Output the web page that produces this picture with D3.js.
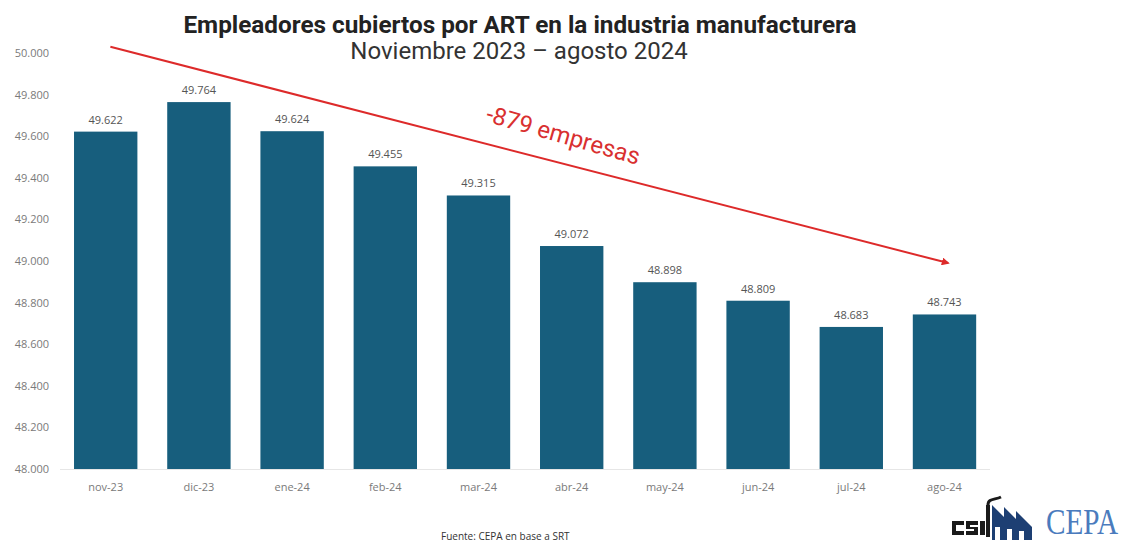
<!DOCTYPE html>
<html>
<head>
  <meta charset="utf-8" />
  <title>Empleadores cubiertos por ART</title>
  <script type="text/javascript" src="https://cdn.jsdelivr.net/npm/d3@7"></script>
  <style type="text/css">
  body {
    margin: 0;
    background: #fff;
    font-family: Roboto, "Noto Sans", sans-serif;
  }
  .tick-label {
    fill: #7a7a7a;
    font-size: 11px;
    font-family: "Open Sans", Roboto, sans-serif;
  }
  .value-label {
    fill: #555;
    font-size: 11px;
    font-family: "Open Sans", Roboto, sans-serif;
  }
  .bar {
    fill: #175e7d;
  }
  </style>
</head>
<body>
  <script type="text/javascript">
    var months = ['nov-23', 'dic-23', 'ene-24', 'feb-24', 'mar-24', 'abr-24', 'may-24', 'jun-24', 'jul-24', 'ago-24']
    var empleadores = [49622, 49764, 49624, 49455, 49315, 49072, 48898, 48809, 48683, 48743]
    var yTicks = [48000, 48200, 48400, 48600, 48800, 49000, 49200, 49400, 49600, 49800, 50000]
    // trend arrow: [category index, value] at start and end
    var trendFrom = [0.05, 50030]
    var trendTo = [9.04, 48990]
    var trendLabel = '-879 empresas'

    var w = 1124,
        h = 542

    var es = d3.formatLocale({ decimal: ',', thousands: '.', grouping: [3], currency: ['$', ''] })
    var fmt = es.format(',.0f')

    var x = d3.scaleBand().domain(months).range([44.2, 1006]).padding(0.32)
    var xi = d3.scaleLinear().domain([0, months.length - 1])
      .range([x(months[0]) + x.bandwidth() / 2, x(months[months.length - 1]) + x.bandwidth() / 2])
    var y = d3.scaleLinear().domain([48000, 50000]).range([469, 53])

    var svg = d3.select(document.body)
      .append('svg')
      .attr('width', w)
      .attr('height', h)

    // title
    svg.append('text')
      .attr('x', 520).attr('y', 33)
      .attr('text-anchor', 'middle')
      .style('font-size', '24.3px').style('font-weight', 'bold').style('fill', '#222')
      .text('Empleadores cubiertos por ART en la industria manufacturera')
    svg.append('text')
      .attr('x', 519).attr('y', 59)
      .attr('text-anchor', 'middle')
      .style('font-size', '24px').style('fill', '#333')
      .text('Noviembre 2023 – agosto 2024')

    // y labels
    svg.selectAll('.ytick')
      .data(yTicks)
    .enter().append('text')
      .attr('class', 'tick-label')
      .attr('x', 49)
      .attr('y', function(d) { return y(d) + 4 })
      .attr('text-anchor', 'end')
      .text(fmt)

    // baseline
    svg.append('line')
      .attr('x1', 60).attr('x2', 990)
      .attr('y1', y(48000) + 0.5).attr('y2', y(48000) + 0.5)
      .style('stroke', '#e6e6e6').style('stroke-width', 1)

    svg.selectAll('.bar')
      .data(empleadores)
    .enter().append('rect')
      .attr('class', 'bar')
      .attr('x', function(d, i) { return x(months[i]) })
      .attr('width', x.bandwidth())
      .attr('y', y)
      .attr('height', function(d) { return y(48000) - y(d) })

    svg.selectAll('.value-label')
      .data(empleadores)
    .enter().append('text')
      .attr('class', 'value-label')
      .attr('x', function(d, i) { return x(months[i]) + x.bandwidth() / 2 })
      .attr('y', function(d) { return y(d) - 8 })
      .attr('text-anchor', 'middle')
      .text(function(d) { return fmt(d) })

    svg.selectAll('.xlabel')
      .data(months)
    .enter().append('text')
      .attr('class', 'tick-label')
      .attr('x', function(d) { return x(d) + x.bandwidth() / 2 })
      .attr('y', 491)
      .attr('text-anchor', 'middle')
      .text(function(d) { return d })

    // trend arrow
    svg.append('defs').append('marker')
      .attr('id', 'head')
      .attr('viewBox', '0 0 10 10')
      .attr('refX', 8).attr('refY', 5)
      .attr('markerWidth', 4).attr('markerHeight', 4)
      .attr('orient', 'auto')
    .append('path')
      .attr('d', 'M0,0L10,5L0,10z')
      .style('fill', '#dd2a2a')

    var ax1 = xi(trendFrom[0]), ay1 = y(trendFrom[1]),
        ax2 = xi(trendTo[0]), ay2 = y(trendTo[1])
    svg.append('line')
      .attr('x1', ax1).attr('y1', ay1)
      .attr('x2', ax2).attr('y2', ay2)
      .style('stroke', '#dd2a2a').style('stroke-width', 2)
      .attr('marker-end', 'url(#head)')

    var angle = Math.atan2(ay2 - ay1, ax2 - ax1) * 180 / Math.PI + 1.5
    svg.append('text')
      .attr('transform', 'translate(561,143) rotate(' + angle + ')')
      .attr('text-anchor', 'middle')
      .style('font-size', '24px').style('fill', '#d93030')
      .text(trendLabel)

    // source
    svg.append('text')
      .attr('x', 441).attr('y', 540)
      .style('font-size', '10px').style('fill', '#333')
      .style('font-family', '"Open Sans", sans-serif')
      .text('Fuente: CEPA en base a SRT')

    // logo
    var logo = svg.append('g').attr('transform', 'translate(952,497)')
    // c s i blocks
    logo.append('path')
      .attr('d', 'M0,24h12v4h-8v6h8v4h-12z M14,24h12v4h-8v2h8v8h-12v-4h8v-2h-8z M28,24h5v14h-5z')
      .style('fill', '#1a1a1a')
    // chimney + smoke
    logo.append('path')
      .attr('d', 'M34,40V8h4v32z')
      .style('fill', '#1a1a1a')
    logo.append('path')
      .attr('d', 'M36,8 C36,1 43,3 49,0')
      .style('fill', 'none').style('stroke', '#1a1a1a').style('stroke-width', 3)
    // factory
    logo.append('path')
      .attr('d', 'M40,43V8l12,12V10l12,12V14l16,16V43z')
      .style('fill', '#1d3f73')
    logo.append('path')
      .attr('d', 'M43,43V30h5v13z M55,43V32h5v11z M67,43V34h5v9z')
      .style('fill', '#fff')
    logo.append('text')
      .attr('transform', 'translate(166,37) scale(1,1.35)')
      .attr('text-anchor', 'end')
      .attr('textLength', 72)
      .attr('lengthAdjust', 'spacingAndGlyphs')
      .style('font-family', '"Liberation Serif", "DejaVu Serif", serif')
      .style('font-size', '26px').style('fill', '#4a7bbd')
      .text('CEPA')
  </script>
</body>
</html>
